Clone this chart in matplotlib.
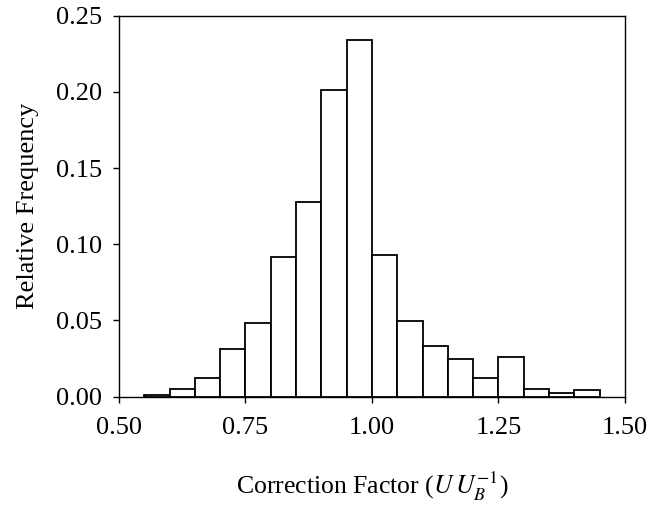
import matplotlib
matplotlib.use('Agg')
import matplotlib.pyplot as plt
import numpy as np

plt.rcParams['font.family'] = ['Liberation Serif', 'DejaVu Serif']
plt.rcParams['mathtext.fontset'] = 'stix'

# Bin left edges and relative frequencies
bin_left = [0.55, 0.60, 0.65, 0.70, 0.75, 0.80, 0.85, 0.90, 0.95,
            1.00, 1.05, 1.10, 1.15, 1.20, 1.25, 1.30, 1.35, 1.40]
rel_freq = [0.0007, 0.0048, 0.0122, 0.0312, 0.0484, 0.0916, 0.1274, 0.2009, 0.2343,
            0.0931, 0.0495, 0.0334, 0.0249, 0.0120, 0.0257, 0.0052, 0.0026, 0.0046]
bin_width = 0.05

x_ticks = [0.50, 0.75, 1.00, 1.25, 1.50]
y_ticks = [0.00, 0.05, 0.10, 0.15, 0.20, 0.25]

fig = plt.figure(figsize=(6.5, 5.14), dpi=100)
ax = fig.add_axes([0.183, 0.2285, 0.7785, 0.741])

ax.bar(bin_left, rel_freq, width=bin_width, align='edge',
       facecolor='white', edgecolor='black', linewidth=1.3)

ax.set_xlim(0.5, 1.5)
ax.set_ylim(0, 0.25)
ax.set_xticks(x_ticks)
ax.set_xticklabels(['%.2f' % v for v in x_ticks])
ax.set_yticks(y_ticks)
ax.set_yticklabels(['%.2f' % v for v in y_ticks])
ax.tick_params(axis='both', labelsize=19, direction='out', length=4, width=1)
ax.tick_params(axis='x', pad=11)
ax.tick_params(axis='y', pad=8)

for s in ax.spines.values():
    s.set_linewidth(1)

ax.set_xlabel(r'Correction Factor ($U\,U_B^{-1}$)', fontsize=18.5, labelpad=22)
ax.set_ylabel('Relative Frequency', fontsize=19, labelpad=12)

fig.savefig('out.png', dpi=100)
